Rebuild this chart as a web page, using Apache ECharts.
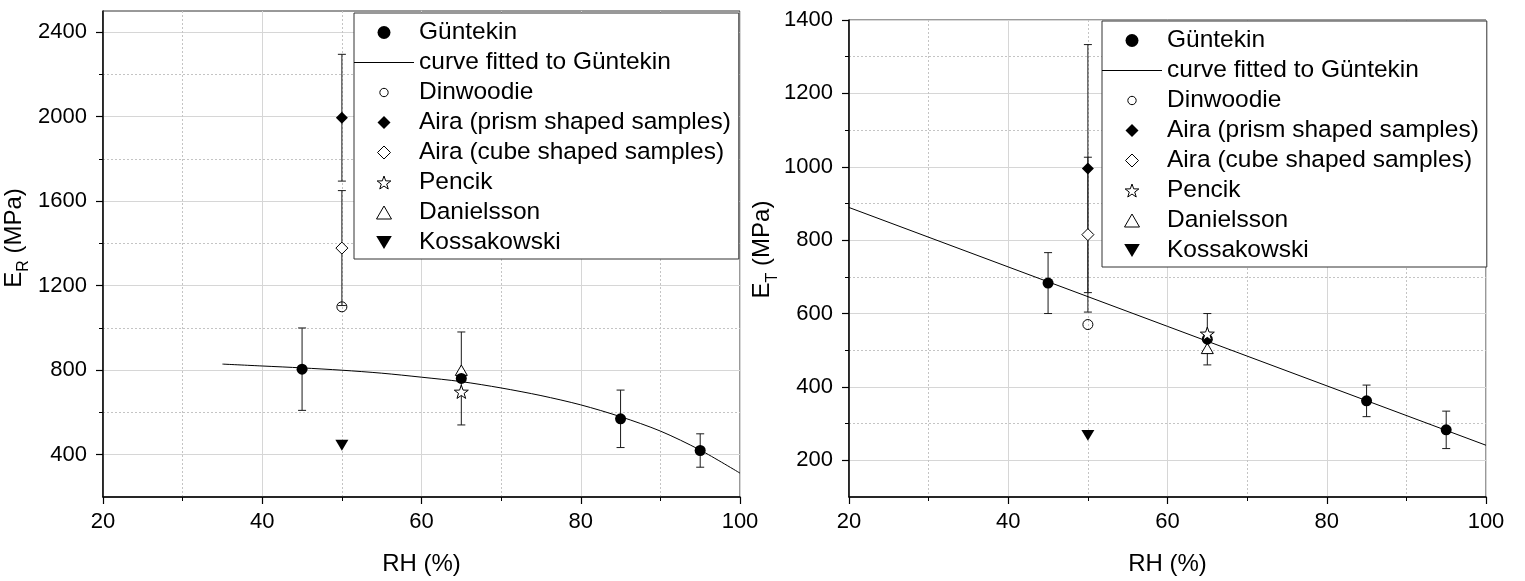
<!DOCTYPE html>
<html>
<head>
<meta charset="utf-8">
<style>
  html, body { margin: 0; padding: 0; background: #fff; }
  #chart { width: 1525px; height: 581px; }
</style>
<script src="https://cdn.jsdelivr.net/npm/echarts@6/dist/echarts.min.js"></script>
</head>
<body>
<div id="chart"></div>
<script>
// ---- Güntekin measurements (mean ± standard deviation) ----
const rhGuntekin = [45, 65, 85, 95];
const erGuntekin = [805, 761, 570, 420];
const erGuntekinErr = [195, 220, 136, 79];
const etGuntekin = [683, 530, 362, 283];
const etGuntekinErr = [83, 70, 43, 51];

// ---- fitted curves ----
const rhFitR = [35, 40, 45, 50, 55, 60, 65, 70, 75, 80, 85, 90, 95, 100];
const erFit = [829, 820, 811, 800, 786, 767, 746, 716, 680, 636, 580, 512, 422, 313];
const rhFitT = [20, 100];
const etFit = [889, 241];

// ---- literature values ----
const rhDinwoodie = 50;   const erDinwoodie = 1100;  const etDinwoodie = 570;
const rhAira = 50;
const erAiraPrism = 1995; const erAiraPrismErr = 300;
const etAiraPrism = 995;  const etAiraPrismErr = 338;
const erAiraCube = 1378;  const erAiraCubeErr = 272;
const etAiraCube = 815;   const etAiraCubeErr = 211;
const rhPencik = 65;      const erPencik = 698;      const etPencik = 545;
const rhDanielsson = 65;  const erDanielsson = 800;  const etDanielsson = 505;
const rhKossakowski = 50; const erKossakowski = 445; const etKossakowski = 268;

// ---- axis ticks ----
const rhTicks = { min: 20, max: 100, step: 20 };
const erMajorTicks = [400, 800, 1200, 1600, 2000, 2400];
const erMinorTicks = [600, 1000, 1400, 1800, 2200];
const erRange = [200, 2500];
const etMajorTicks = [200, 400, 600, 800, 1000, 1200, 1400];
const etMinorTicks = [300, 500, 700, 900, 1100, 1300];
const etRange = [100, 1400];

const legendNames = ['Güntekin', 'curve fitted to Güntekin', 'Dinwoodie',
  'Aira (prism shaped samples)', 'Aira (cube shaped samples)', 'Pencik',
  'Danielsson', 'Kossakowski'];

const FONT = '"Liberation Sans", Arial, Helvetica, sans-serif';
// marker shapes
const STAR = 'path://M10,0 L12.35,6.76 L19.51,6.91 L13.8,11.24 L15.88,18.09 L10,14 L4.12,18.09 L6.2,11.24 L0.49,6.91 L7.65,6.76 Z';
const DOWN_TRI = 'path://M0,0 L12,0 L6,10 Z';
const UP_TRI = 'path://M6,0 L12,10.4 L0,10.4 Z';
const DIAMOND = 'path://M6,0 L12,6 L6,12 L0,6 Z';
const SMALL_CIRCLE = 'path://M0,0 M14,14 M11.5,7 A4.5,4.5 0 1 1 2.5,7 A4.5,4.5 0 1 1 11.5,7 Z';
const LEGEND_LINE = 'path://M0,0 L60,0 L60,1 L0,1 Z';

const chart = echarts.init(document.getElementById('chart'), null, { renderer: 'canvas' });

function errBarData(xs, means, errs) {
  return xs.map((x, i) => [x, means[i] - errs[i], means[i] + errs[i]]);
}

function renderErrorBar(params, api) {
  const x = api.value(0);
  const lo = api.coord([x, api.value(1)]);
  const hi = api.coord([x, api.value(2)]);
  const half = 4;
  const style = { stroke: '#1a1a1a', lineWidth: 1 };
  return {
    type: 'group',
    children: [
      { type: 'line', shape: { x1: hi[0], y1: hi[1], x2: lo[0], y2: lo[1] }, style },
      { type: 'line', shape: { x1: hi[0] - half, y1: hi[1], x2: hi[0] + half, y2: hi[1] }, style },
      { type: 'line', shape: { x1: lo[0] - half, y1: lo[1], x2: lo[0] + half, y2: lo[1] }, style }
    ]
  };
}

const plainNumber = v => String(v);

function xAxisCfg(gridIndex) {
  return {
    gridIndex, type: 'value', min: rhTicks.min, max: rhTicks.max, interval: rhTicks.step,
    name: 'RH (%)', nameLocation: 'middle', nameGap: 55,
    nameTextStyle: { fontSize: 24, color: '#000', fontFamily: FONT },
    axisLine: { lineStyle: { color: '#000', width: 1.5 } },
    axisTick: { length: 7, lineStyle: { color: '#000', width: 1.2 } },
    minorTick: { show: true, splitNumber: 2, length: 4, lineStyle: { color: '#000', width: 1 } },
    splitLine: { show: true, lineStyle: { color: '#d6d6d6', width: 1 } },
    minorSplitLine: { show: true, lineStyle: { color: '#c4c4c4', width: 1, type: [2, 2] } },
    axisLabel: { fontSize: 22, color: '#000', fontFamily: FONT, margin: 14, formatter: plainNumber }
  };
}

function yMajorCfg(gridIndex, range, ticks, sub, gap, shift) {
  return {
    gridIndex, type: 'value', position: 'left', min: range[0], max: range[1],
    name: '{m|E}{s|' + sub + '}{m| (MPa)}', nameLocation: 'middle', nameGap: gap, nameRotate: 90,
    nameTextStyle: {
      color: '#000', fontFamily: FONT, padding: [0, 0, 0, shift],
      rich: {
        m: { fontSize: 24, lineHeight: 30, verticalAlign: 'top', color: '#000', fontFamily: FONT },
        s: { fontSize: 16, lineHeight: 16, verticalAlign: 'bottom', color: '#000', fontFamily: FONT }
      }
    },
    axisLine: { show: true, lineStyle: { color: '#000', width: 1.5 } },
    axisTick: { show: true, customValues: ticks, length: 7, lineStyle: { color: '#000', width: 1.2 } },
    axisLabel: { customValues: ticks, fontSize: 22, color: '#000', fontFamily: FONT, margin: 16, formatter: plainNumber },
    splitLine: { show: true, lineStyle: { color: '#d6d6d6', width: 1 } }
  };
}

function yMinorCfg(gridIndex, range, ticks) {
  return {
    gridIndex, type: 'value', position: 'left', min: range[0], max: range[1],
    axisLine: { show: false },
    axisTick: { show: true, customValues: ticks, length: 4, lineStyle: { color: '#000', width: 1 } },
    axisLabel: { show: false },
    splitLine: { show: true, lineStyle: { color: '#c4c4c4', width: 1, type: [2, 2] } }
  };
}

const legendIcons = {
  'Dinwoodie': SMALL_CIRCLE,
  'curve fitted to Güntekin': LEGEND_LINE,
  'Aira (prism shaped samples)': DIAMOND,
  'Aira (cube shaped samples)': DIAMOND,
  'Danielsson': UP_TRI
};

function legendCfg(left, top) {
  return {
    left, top, orient: 'vertical', selectedMode: false, symbolKeepAspect: true,
    data: legendNames.map(n => {
      if (n === 'curve fitted to Güntekin') return { name: n, icon: LEGEND_LINE, itemStyle: { color: '#000', borderWidth: 0 } };
      if (legendIcons[n]) return { name: n, icon: legendIcons[n] };
      return n;
    }),
    itemWidth: 60, itemHeight: 13, itemGap: 5,
    itemStyle: { borderWidth: 1 },
    padding: [7, 8, 4, 0],
    borderColor: '#333', borderWidth: 1, backgroundColor: '#fff',
    textStyle: { fontSize: 24.5, lineHeight: 24, color: '#000', fontFamily: FONT }
  };
}

const filled = { color: '#000', opacity: 1 };
const open = { color: '#fff', borderColor: '#000', borderWidth: 1, opacity: 1 };

function seriesFor(g, d) {
  const xi = g, yi = g * 2;
  const sc = (name, symbol, size, style, data) => ({
    name, type: 'scatter', xAxisIndex: xi, yAxisIndex: yi, z: 3,
    symbol, symbolSize: size, symbolKeepAspect: true, itemStyle: style, data
  });
  return [
    {
      name: 'err' + g, type: 'custom', xAxisIndex: xi, yAxisIndex: yi, silent: true, z: 1,
      renderItem: renderErrorBar, encode: { x: 0, y: [1, 2] }, data: d.err
    },
    {
      name: 'curve fitted to Güntekin', type: 'line', xAxisIndex: xi, yAxisIndex: yi, z: 2,
      data: d.fit, smooth: d.smooth, symbol: 'none', showSymbol: false,
      lineStyle: { color: '#000', width: 1 }, itemStyle: { color: '#000' }
    },
    sc('Dinwoodie', 'circle', 10,
      { color: 'rgba(255,255,255,0)', borderColor: '#000', borderWidth: 1, opacity: 1 }, [d.dinwoodie]),
    sc('Aira (prism shaped samples)', DIAMOND, 12, filled, [d.prism]),
    sc('Aira (cube shaped samples)', DIAMOND, 12, open, [d.cube]),
    sc('Danielsson', UP_TRI, 12, open, [d.danielsson]),
    sc('Güntekin', 'circle', 11, filled, d.guntekin),
    sc('Pencik', STAR, 14, open, [d.pencik]),
    sc('Kossakowski', DOWN_TRI, 13, filled, [d.kossakowski])
  ];
}

const left = {
  err: errBarData(rhGuntekin, erGuntekin, erGuntekinErr)
    .concat(errBarData([rhAira, rhAira], [erAiraPrism, erAiraCube], [erAiraPrismErr, erAiraCubeErr])),
  fit: rhFitR.map((x, i) => [x, erFit[i]]), smooth: 0.3,
  guntekin: rhGuntekin.map((x, i) => [x, erGuntekin[i]]),
  dinwoodie: [rhDinwoodie, erDinwoodie],
  prism: [rhAira, erAiraPrism], cube: [rhAira, erAiraCube],
  pencik: [rhPencik, erPencik], danielsson: [rhDanielsson, erDanielsson],
  kossakowski: [rhKossakowski, erKossakowski]
};
const right = {
  err: errBarData(rhGuntekin, etGuntekin, etGuntekinErr)
    .concat(errBarData([rhAira, rhAira], [etAiraPrism, etAiraCube], [etAiraPrismErr, etAiraCubeErr])),
  fit: rhFitT.map((x, i) => [x, etFit[i]]), smooth: false,
  guntekin: rhGuntekin.map((x, i) => [x, etGuntekin[i]]),
  dinwoodie: [rhDinwoodie, etDinwoodie],
  prism: [rhAira, etAiraPrism], cube: [rhAira, etAiraCube],
  pencik: [rhPencik, etPencik], danielsson: [rhDanielsson, etDanielsson],
  kossakowski: [rhKossakowski, etKossakowski]
};

chart.setOption({
  animation: false,
  backgroundColor: '#fff',
  textStyle: { fontFamily: FONT },
  grid: [
    { left: 103, top: 11, width: 637, height: 486, show: true, borderColor: '#333', borderWidth: 1, backgroundColor: 'transparent' },
    { left: 849, top: 20, width: 637, height: 485, show: true, borderColor: '#333', borderWidth: 1, backgroundColor: 'transparent' }
  ],
  xAxis: [xAxisCfg(0), xAxisCfg(1)],
  yAxis: [
    yMajorCfg(0, erRange, erMajorTicks, 'R', 71, 32),
    yMinorCfg(0, erRange, erMinorTicks),
    yMajorCfg(1, etRange, etMajorTicks, 'T', 66, 18),
    yMinorCfg(1, etRange, etMinorTicks)
  ],
  legend: [legendCfg(354, 13), legendCfg(1102, 21)],
  series: seriesFor(0, left).concat(seriesFor(1, right))
});
</script>
</body>
</html>
